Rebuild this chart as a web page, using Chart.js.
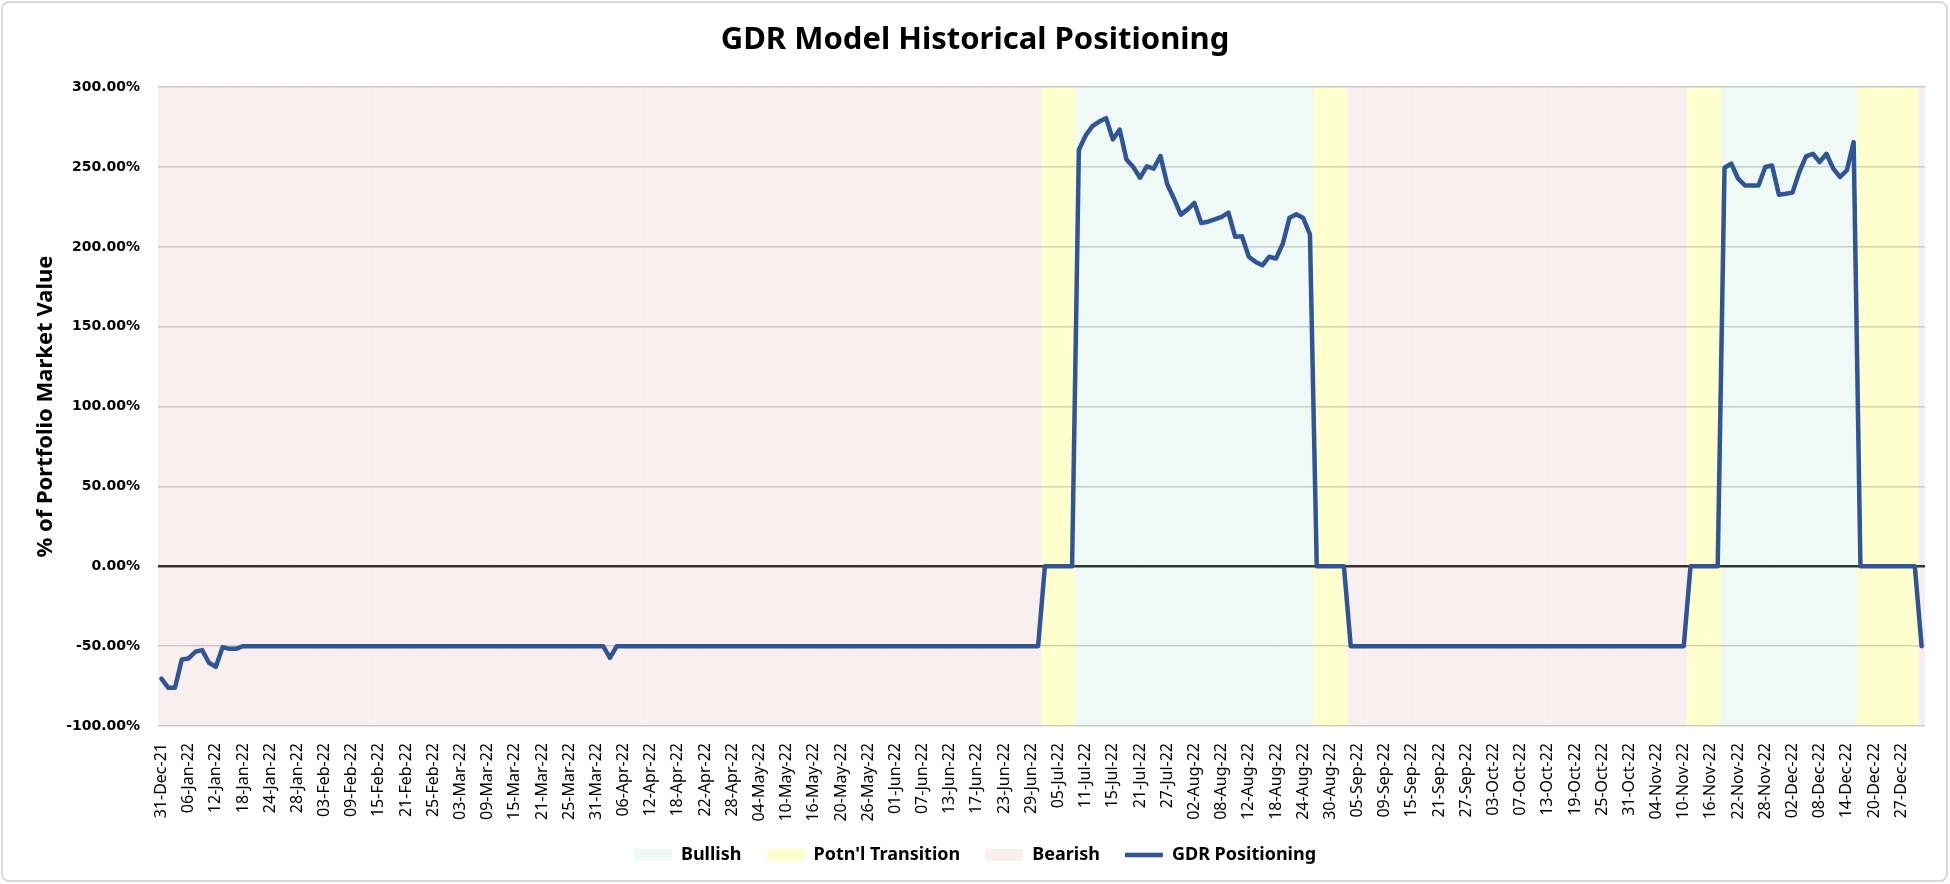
<!DOCTYPE html>
<html>
<head>
<meta charset="utf-8">
<title>GDR Model Historical Positioning</title>
<script src="https://cdn.jsdelivr.net/npm/chart.js@4.4.0/dist/chart.umd.min.js"></script>
<style>
	html, body { margin: 0; padding: 0; background: #fff; overflow: hidden; }
	#wrap { position: relative; width: 1950px; height: 884px; }
	#wrap canvas { position: absolute; left: 0; top: 0; }
	#frame { position: absolute; left: 1px; top: 1px; width: 1947px; height: 881px; border: 2px solid #d9d9d9; border-radius: 8px; box-sizing: border-box; pointer-events: none; }
</style>
</head>
<body>
<div id="wrap">
	<canvas id="my-chart" width="1950" height="884"></canvas>
	<div id="frame"></div>
</div>
<script>
// trading days shown on the category axis
const firstDay = '2021-12-31';
const lastDay = '2022-12-30';
const closedDays = ['2022-12-26'];
const monthNames = ['Jan', 'Feb', 'Mar', 'Apr', 'May', 'Jun', 'Jul', 'Aug', 'Sep', 'Oct', 'Nov', 'Dec'];
const labelEvery = 4;

// y axis ticks (% of portfolio market value)
const yTicks = [-100, -50, 0, 50, 100, 150, 200, 250, 300];

// background regime, as runs of consecutive days
const regimeNames = ['Bearish', 'Transition', 'Bullish', 'Transition', 'Bearish', 'Transition', 'Bullish', 'Transition', 'Bearish'];
const regimeLengths = [130, 5, 35, 5, 50, 5, 20, 9, 1];

// GDR positioning, one value per trading day (%)
const positioning = [
	-70.4, -76, -76, -58.3, -57.7, -53.5, -52.5, -60.4, -63, -50.6, -51.7, -51.7, -50, -50, -50, -50, -50, -50, -50, -50,
	-50, -50, -50, -50, -50, -50, -50, -50, -50, -50, -50, -50, -50, -50, -50, -50, -50, -50, -50, -50,
	-50, -50, -50, -50, -50, -50, -50, -50, -50, -50, -50, -50, -50, -50, -50, -50, -50, -50, -50, -50,
	-50, -50, -50, -50, -50, -50, -57.3, -50, -50, -50, -50, -50, -50, -50, -50, -50, -50, -50, -50, -50,
	-50, -50, -50, -50, -50, -50, -50, -50, -50, -50, -50, -50, -50, -50, -50, -50, -50, -50, -50, -50,
	-50, -50, -50, -50, -50, -50, -50, -50, -50, -50, -50, -50, -50, -50, -50, -50, -50, -50, -50, -50,
	-50, -50, -50, -50, -50, -50, -50, -50, -50, -50, 0, 0, 0, 0, 0, 260.8, 269.8, 275.6, 278.5, 280.6,
	267.3, 273.5, 254.8, 250, 243.3, 250.4, 249, 256.9, 239.2, 230.2, 220.2, 223.5, 227.5, 215, 215.8, 217.3, 218.8, 221.5, 206.3, 206.7,
	193.8, 190.6, 188.5, 193.8, 192.7, 202, 218.3, 220.4, 218.1, 207.9, 0, 0, 0, 0, 0, -50, -50, -50, -50, -50,
	-50, -50, -50, -50, -50, -50, -50, -50, -50, -50, -50, -50, -50, -50, -50, -50, -50, -50, -50, -50,
	-50, -50, -50, -50, -50, -50, -50, -50, -50, -50, -50, -50, -50, -50, -50, -50, -50, -50, -50, -50,
	-50, -50, -50, -50, -50, 0, 0, 0, 0, 0, 249.6, 252.1, 242.7, 238.5, 238.5, 238.5, 250, 251, 232.7, 233.3,
	234, 246.9, 256.7, 258.3, 253.1, 258.3, 249, 243.8, 247.9, 265.6, 0, 0, 0, 0, 0, 0, 0, 0, 0, -50
];

const regimeStyle = {
	Bullish: { label: 'Bullish', color: 'rgba(190, 232, 214, 0.24)' },
	Transition: { label: "Potn'l Transition", color: 'rgba(255, 255, 60, 0.25)' },
	Bearish: { label: 'Bearish', color: 'rgba(236, 190, 190, 0.25)' }
};
const lineColor = '#2F5597';

function tradingDays() {
	const out = [];
	const end = new Date(lastDay + 'T00:00:00Z');
	for (let d = new Date(firstDay + 'T00:00:00Z'); d <= end; d.setUTCDate(d.getUTCDate() + 1)) {
		const wd = d.getUTCDay();
		if (wd === 0 || wd === 6 || closedDays.includes(d.toISOString().slice(0, 10))) continue;
		out.push(String(d.getUTCDate()).padStart(2, '0') + '-' + monthNames[d.getUTCMonth()] + '-' + String(d.getUTCFullYear()).slice(2));
	}
	return out;
}

const labels = tradingDays();
const regimeByDay = [];
regimeNames.forEach((name, i) => {
	for (let k = 0; k < regimeLengths[i]; k++) regimeByDay.push(name);
});

const yMin = yTicks[0];
const yMax = yTicks[yTicks.length - 1];
const bandSets = ['Bullish', 'Transition', 'Bearish'].map(name => ({
	type: 'bar',
	label: regimeStyle[name].label,
	data: regimeByDay.map(r => r === name ? [yMin, yMax] : null),
	backgroundColor: regimeStyle[name].color,
	borderWidth: 0,
	inflateAmount: 0,
	grouped: false,
	barPercentage: 1,
	categoryPercentage: 1,
	order: 2
}));

const lineSet = {
	type: 'line',
	label: 'GDR Positioning',
	data: positioning,
	borderColor: lineColor,
	backgroundColor: lineColor,
	borderWidth: 4.5,
	borderJoinStyle: 'round',
	borderCapStyle: 'round',
	pointRadius: 0,
	tension: 0,
	order: 0
};

const ctx = document.getElementById('my-chart').getContext('2d');
const myChart = new Chart(ctx, {
	type: 'bar',
	data: {
		labels: labels,
		datasets: [...bandSets, lineSet]
	},
	options: {
		responsive: false,
		animation: false,
		layout: { padding: { left: 25, right: 25, top: 0, bottom: 10 } },
		plugins: {
			title: {
				display: true,
				text: 'GDR Model Historical Positioning',
				color: '#000',
				font: { family: 'Noto Sans', size: 31, weight: 'bold', lineHeight: 1.2 },
				padding: { top: 22, bottom: 28 }
			},
			legend: {
				position: 'bottom',
				labels: {
					usePointStyle: true,
					pointStyleWidth: 38,
					boxHeight: 12,
					padding: 25,
					color: '#000',
					font: { family: 'Noto Sans', size: 18, weight: 'bold' },
					generateLabels: chart => chart.data.datasets.map((ds, i) => ({
						text: ds.label,
						datasetIndex: i,
						fillStyle: ds.type === 'line' ? 'rgba(0,0,0,0)' : ds.backgroundColor,
						strokeStyle: ds.type === 'line' ? lineColor : 'rgba(0,0,0,0)',
						lineWidth: ds.type === 'line' ? 4.5 : 0,
						pointStyle: ds.type === 'line' ? 'line' : 'rect',
						hidden: false
					}))
				}
			},
			tooltip: { enabled: false }
		},
		scales: {
			x: {
				grid: { display: false },
				border: { display: false },
				ticks: {
					autoSkip: false,
					minRotation: 90,
					maxRotation: 90,
					padding: 9,
					color: '#000',
					font: { family: 'Noto Sans', size: 16 },
					callback: function(val, i) {
						return i % labelEvery === 0 ? this.getLabelForValue(val) : '';
					}
				},
				afterFit: s => { s.height = 95; }
			},
			y: {
				min: yMin,
				max: yMax,
				ticks: {
					stepSize: 50,
					padding: 18,
					color: '#000',
					font: { family: 'DejaVu Sans', size: 14, weight: 'bold' },
					callback: v => v.toFixed(2) + '%'
				},
				grid: {
					drawTicks: false,
					color: c => c.tick && c.tick.value === 0 ? '#000' : '#c8c8c8',
					lineWidth: c => c.tick && c.tick.value === 0 ? 2.5 : 1.5
				},
				border: { display: false },
				title: {
					display: true,
					text: '% of Portfolio Market Value',
					color: '#000',
					font: { family: 'Noto Sans', size: 22, weight: 'bold' },
					padding: { top: 8, bottom: 0 }
				},
				afterFit: s => { s.width = 133; }
			}
		}
	}
});
</script>
</body>
</html>
